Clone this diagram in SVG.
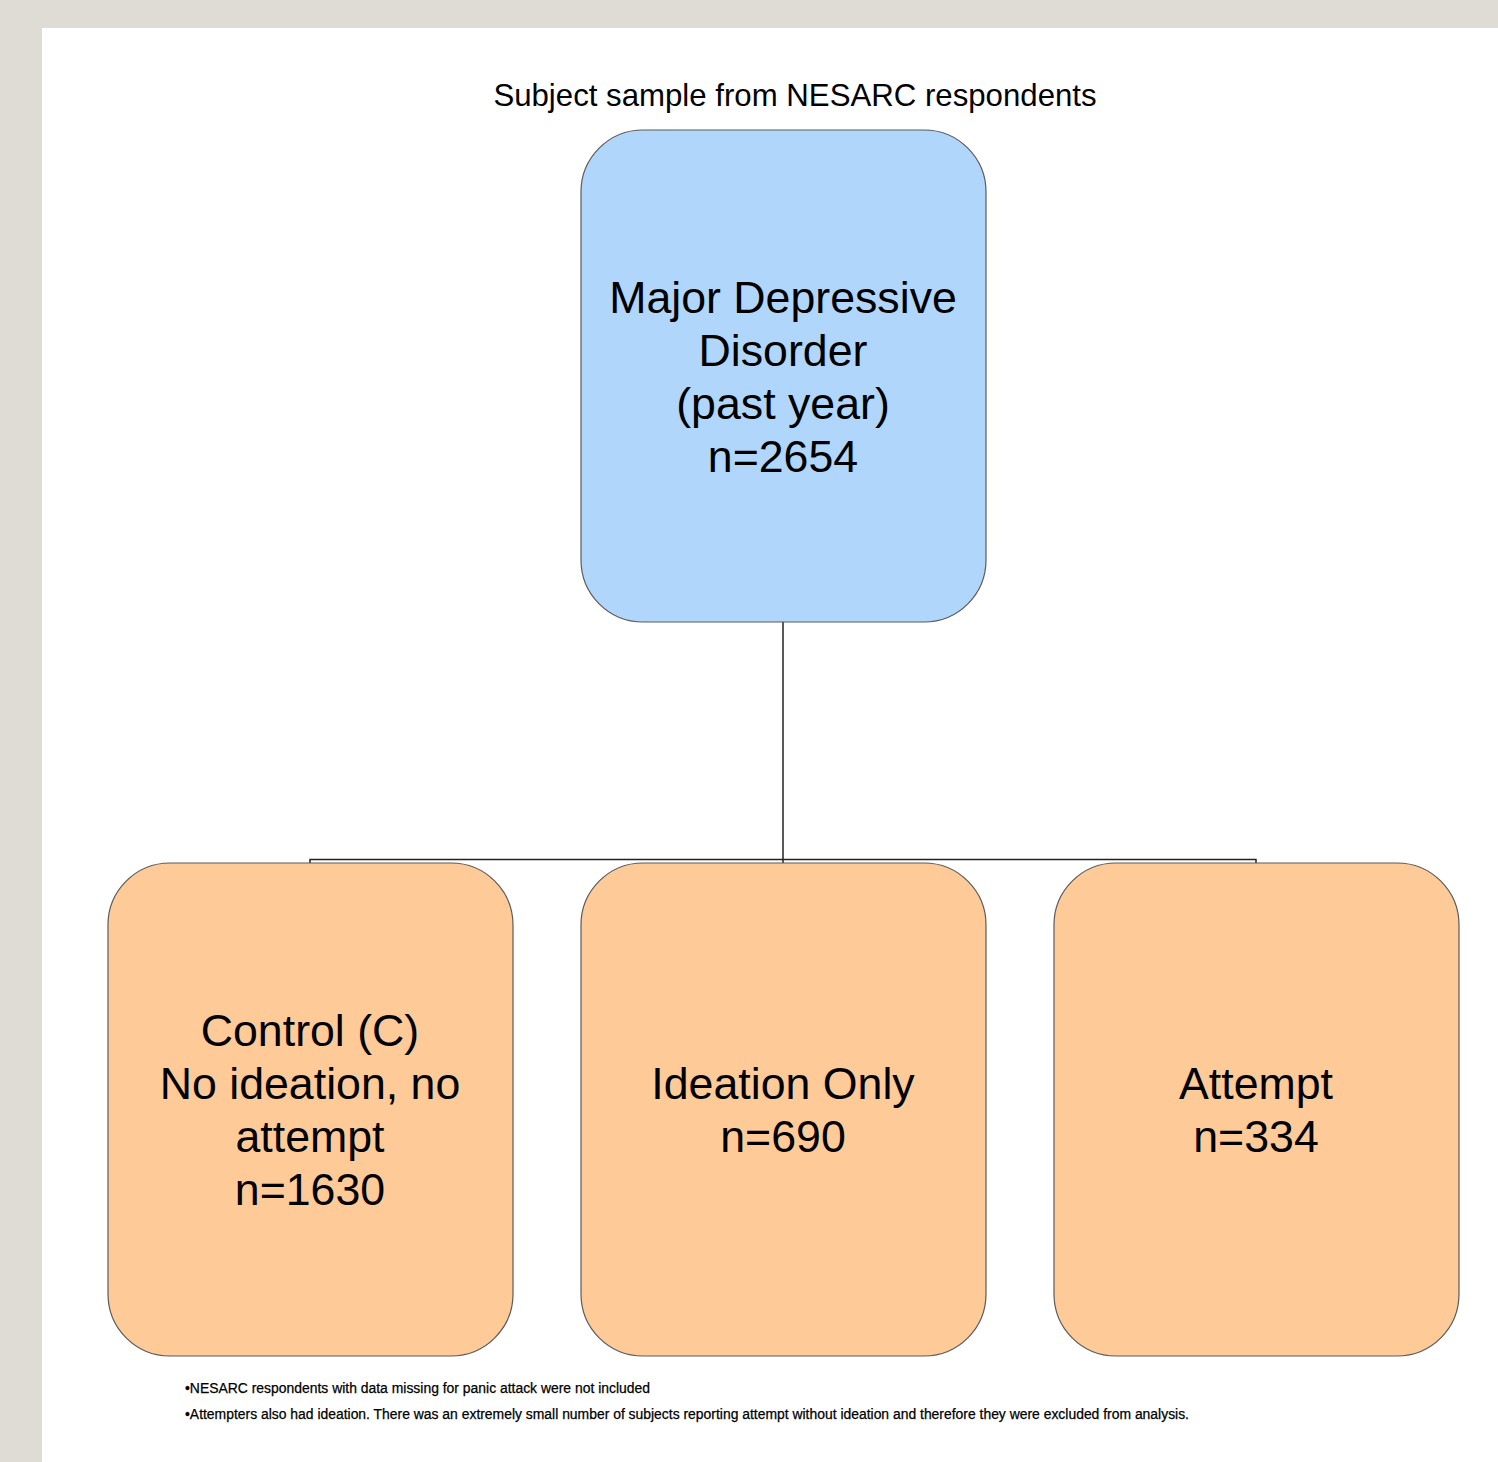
<svg xmlns="http://www.w3.org/2000/svg" width="1498" height="1462" viewBox="0 0 1498 1462">
<style>
.box{stroke:#5a5a5a;stroke-width:1.2}
.top{fill:#B1D6FB}
.sub{fill:#FDCA98}
.lbl{font-family:"Liberation Sans",Arial,sans-serif;font-size:44.7px;fill:#000;text-anchor:middle}
.note{font-family:"Liberation Sans",Arial,sans-serif;font-size:14px;fill:#000;stroke:#000;stroke-width:0.25}
.conn{fill:none;stroke:#222;stroke-width:1.5}
</style>
<rect x="0" y="0" width="1498" height="1462" fill="#DFDCD6"/>
<rect x="42" y="28" width="1456" height="1434" fill="#FFFFFF"/>
<text x="795" y="106" font-family="Liberation Sans,Arial,sans-serif" font-size="31.2" text-anchor="middle">Subject sample from NESARC respondents</text>
<g id="connectors">
<path class="conn" d="M783,622 V863"/>
<path class="conn" d="M310,863 V859.5 H1256 V863"/>
</g>
<g id="mdd">
<rect class="box top" x="581" y="130" width="405" height="492" rx="62" ry="62"/>
<text class="lbl"><tspan x="783" y="313">Major Depressive</tspan><tspan x="783" y="366">Disorder</tspan><tspan x="783" y="419">(past year)</tspan><tspan x="783" y="472">n=2654</tspan></text>
</g>
<g id="control">
<rect class="box sub" x="108" y="863" width="405" height="493" rx="62" ry="62"/>
<text class="lbl"><tspan x="310" y="1046">Control (C)</tspan><tspan x="310" y="1099">No ideation, no</tspan><tspan x="310" y="1152">attempt</tspan><tspan x="310" y="1205">n=1630</tspan></text>
</g>
<g id="ideation">
<rect class="box sub" x="581" y="863" width="405" height="493" rx="62" ry="62"/>
<text class="lbl"><tspan x="783" y="1099">Ideation Only</tspan><tspan x="783" y="1152">n=690</tspan></text>
</g>
<g id="attempt">
<rect class="box sub" x="1054" y="863" width="405" height="493" rx="62" ry="62"/>
<text class="lbl"><tspan x="1256" y="1099">Attempt</tspan><tspan x="1256" y="1152">n=334</tspan></text>
</g>
<text class="note" x="185" y="1393" textLength="465" lengthAdjust="spacingAndGlyphs">•NESARC respondents with data missing for panic attack were not included</text>
<text class="note" x="185" y="1419" textLength="1004" lengthAdjust="spacingAndGlyphs">•Attempters also had ideation. There was an extremely small number of subjects reporting attempt without ideation and therefore they were excluded from analysis.</text>
</svg>
